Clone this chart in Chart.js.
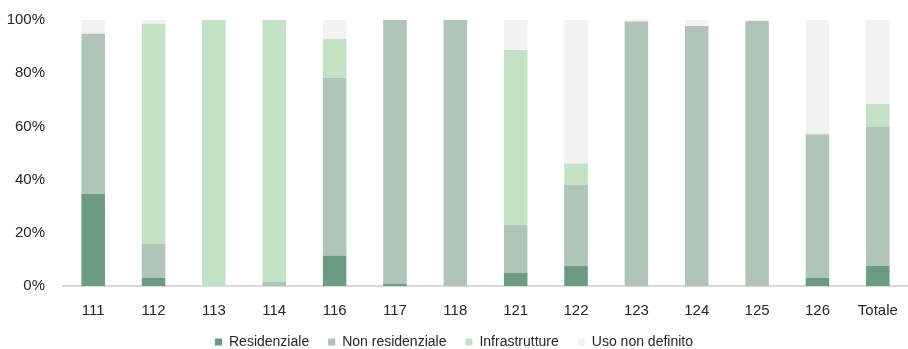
<!DOCTYPE html>
<html>
<head>
<meta charset="utf-8">
<script src="https://cdn.jsdelivr.net/npm/chart.js@4"></script>
<style>
  html, body { margin: 0; padding: 0; background: #fff; }
  #wrap { width: 908px; height: 349px; position: relative; }
</style>
</head>
<body>
<div id="wrap"><canvas id="chart"></canvas></div>
<script>
// categories
const labels = ['111', '112', '113', '114', '116', '117', '118', '121', '122', '123', '124', '125', '126', 'Totale'];

// shares in %
const residenziale = [34.7, 3.0, 0, 0, 11.4, 0.9, 0, 5.0, 7.5, 0, 0, 0, 3.0, 7.6];
const nonResidenziale = [60.1, 12.9, 0, 1.5, 66.9, 99.1, 100, 18.0, 30.6, 99.4, 97.7, 99.6, 54.0, 52.4];
const infrastrutture = [0, 82.7, 100, 98.5, 14.6, 0, 0, 65.7, 7.9, 0, 0, 0, 0.3, 8.4];
const usoNonDefinito = [5.2, 1.4, 0, 0, 7.1, 0, 0, 11.3, 54.0, 0.6, 2.3, 0.4, 42.7, 31.6];

const yTicks = [0, 20, 40, 60, 80, 100];

const textColor = '#262626';
const family = '"Liberation Sans", Arial, sans-serif';

const makeSet = (label, data, color) => ({
  label: label,
  data: data,
  backgroundColor: color,
  borderWidth: 0,
  categoryPercentage: 1,
  barPercentage: 0.39,
});

new Chart(document.getElementById('chart'), {
  type: 'bar',
  data: {
    labels: labels,
    datasets: [
      makeSet('Residenziale', residenziale, '#6d9b81'),
      makeSet('Non residenziale', nonResidenziale, '#b0c4b8'),
      makeSet('Infrastrutture', infrastrutture, '#c3e2c5'),
      makeSet('Uso non definito', usoNonDefinito, '#f2f2f2'),
    ],
  },
  options: {
    responsive: true,
    maintainAspectRatio: false,
    animation: false,
    layout: { padding: { top: 20, right: 0, bottom: -10, left: 0 } },
    plugins: {
      tooltip: { enabled: false },
      legend: {
        position: 'bottom',
        labels: {
          color: textColor,
          font: { family: family, size: 14 },
          boxWidth: 7,
          boxHeight: 7,
          padding: 19,
        },
      },
    },
    scales: {
      x: {
        stacked: true,
        grid: { display: false },
        border: { display: true, color: '#d9d9d9', width: 2 },
        ticks: { color: textColor, font: { family: family, size: 15 }, padding: 8, maxRotation: 0 },
        afterFit: (scale) => { scale.height = 30; },
      },
      y: {
        stacked: true,
        min: 0,
        max: 100,
        grid: { display: false },
        border: { display: false },
        afterBuildTicks: (scale) => { scale.ticks = yTicks.map(v => ({ value: v })); },
        ticks: {
          color: textColor,
          font: { family: family, size: 15 },
          padding: 10,
          callback: (v) => v + '%',
        },
        afterFit: (scale) => { scale.width = 63; },
      },
    },
  },
});
</script>
</body>
</html>
